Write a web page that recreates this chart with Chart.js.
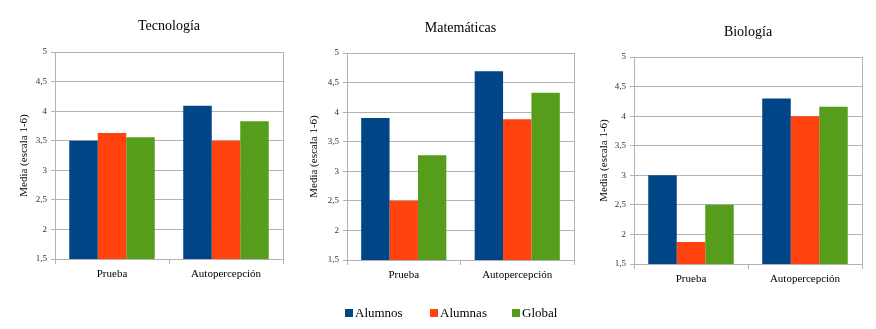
<!DOCTYPE html>
<html>
<head>
<meta charset="utf-8">
<script src="https://cdn.jsdelivr.net/npm/chart.js@4"></script>
<style>
  body { margin: 0; background: #fff; width: 876px; height: 329px; position: relative; overflow: hidden; }
  canvas { position: absolute; top: 0; }
  #legend { position: absolute; top: 304px; left: 0; width: 876px; height: 18px; font-family: 'Liberation Serif', serif; font-size: 13px; color: #000; }
  #legend span { position: absolute; top: 0; line-height: 18px; }
  #legend i { display: inline-block; width: 8px; height: 8px; margin-right: 2px; vertical-align: 0px; }
</style>
</head>
<body>
<canvas id="tec" width="295" height="290" style="left:0px"></canvas>
<canvas id="mat" width="295" height="290" style="left:290px"></canvas>
<canvas id="bio" width="295" height="290" style="left:580px"></canvas>
<div id="legend"></div>
<script>
// Data
const categories = ['Prueba', 'Autopercepción'];
const seriesNames = ['Alumnos', 'Alumnas', 'Global'];
const seriesColors = ['#004586', '#ff420e', '#579d1c'];

const tecAlumnos = [3.50, 4.09];
const tecAlumnas = [3.63, 3.50];
const tecGlobal = [3.56, 3.83];

const matAlumnos = [3.90, 4.69];
const matAlumnas = [2.50, 3.88];
const matGlobal = [3.27, 4.33];

const bioAlumnos = [3.00, 4.30];
const bioAlumnas = [1.87, 4.00];
const bioGlobal = [2.50, 4.16];

const yMin = 1.5, yMax = 5, yStep = 0.5;
const yTitle = 'Media (escala 1-6)';

const serif = "'Liberation Serif', 'DejaVu Serif', serif";
const gridGray = '#b3b3b3';

// plot area boxes inside each canvas (left, right, top, bottom, title centre)
function makeChart(id, title, values, box) {
  const W = 295, H = 290, padLeft = 10;
  const titleLH = 14 * 1.2;
  new Chart(document.getElementById(id), {
    type: 'bar',
    data: {
      labels: categories,
      datasets: seriesNames.map((name, i) => ({
        label: name,
        data: values[i],
        backgroundColor: seriesColors[i],
        borderWidth: 0,
        barPercentage: 1,
        categoryPercentage: 0.75
      }))
    },
    options: {
      responsive: false,
      animation: false,
      layout: { padding: { left: padLeft, right: W - box.right, top: 0, bottom: 0 } },
      plugins: {
        legend: { display: false },
        tooltip: { enabled: false },
        title: {
          display: true,
          fullSize: false,
          text: title,
          color: '#000',
          font: { family: serif, size: 14, weight: 'normal', lineHeight: 1.2 },
          padding: { top: box.titleY - titleLH / 2, bottom: box.top - box.titleY - titleLH / 2 }
        }
      },
      scales: {
        x: {
          afterFit: s => { s.height = H - box.bottom; },
          grid: {
            offset: true,
            drawOnChartArea: true,
            color: ctx => ctx.index === 1 ? 'rgba(0,0,0,0)' : gridGray,
            tickColor: gridGray,
            tickLength: 5
          },
          border: { color: gridGray },
          ticks: { color: '#000', padding: 4, font: { family: serif, size: 11 } }
        },
        y: {
          min: yMin,
          max: yMax,
          afterFit: s => { s.width = box.left - padLeft; },
          grid: { color: gridGray, tickLength: 4 },
          border: { color: gridGray },
          ticks: {
            stepSize: yStep,
            color: '#333',
            padding: 4,
            font: { family: serif, size: 9 },
            callback: v => String(v).replace('.', ',')
          },
          title: {
            display: true,
            text: yTitle,
            color: '#000',
            padding: { top: 8, bottom: 0 },
            font: { family: serif, size: 11 }
          }
        }
      }
    }
  });
}

makeChart('tec', 'Tecnología', [tecAlumnos, tecAlumnas, tecGlobal],
  { left: 55, right: 283, top: 52, bottom: 259, titleY: 26 });
makeChart('mat', 'Matemáticas', [matAlumnos, matAlumnas, matGlobal],
  { left: 57, right: 284, top: 53, bottom: 260, titleY: 28 });
makeChart('bio', 'Biología', [bioAlumnos, bioAlumnas, bioGlobal],
  { left: 54, right: 282, top: 57, bottom: 264, titleY: 32 });

// shared legend
const legendX = [345, 430, 512];
const legend = document.getElementById('legend');
seriesNames.forEach((name, i) => {
  const item = document.createElement('span');
  item.style.left = legendX[i] + 'px';
  item.innerHTML = '<i style="background:' + seriesColors[i] + '"></i>' + name;
  legend.appendChild(item);
});
</script>
</body>
</html>
